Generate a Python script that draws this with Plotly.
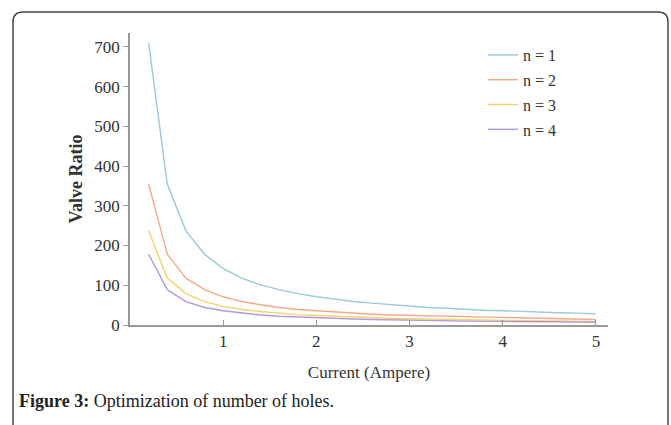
import plotly.graph_objects as go

current = [0.2, 0.4, 0.6, 0.8, 1.0, 1.2, 1.4, 1.6, 1.8, 2.0, 2.2, 2.4, 2.6,
           2.8, 3.0, 3.2, 3.4, 3.6, 3.8, 4.0, 4.2, 4.4, 4.6, 4.8, 5.0]
n1 = [710, 355, 237, 178, 142, 118, 101, 89, 79, 71, 65, 59, 55, 51, 47, 44, 42, 39, 37, 36, 34, 32, 31, 30, 28]
n2 = [355, 178, 118, 89, 71, 59, 51, 44, 39, 36, 32, 30, 27, 25, 24, 22, 21, 20, 19, 18, 17, 16, 15, 15, 14]
n3 = [237, 118, 79, 59, 47, 39, 34, 30, 26, 24, 22, 20, 18, 17, 16, 15, 14, 13, 12, 12, 11, 11, 10, 10, 9]
n4 = [178, 89, 59, 44, 36, 30, 25, 22, 20, 18, 16, 15, 14, 13, 12, 11, 10, 10, 9, 9, 8, 8, 8, 7, 7]
names = ["n = 1", "n = 2", "n = 3", "n = 4"]
colors = ["#9cc8d8", "#f4a98a", "#f5d56a", "#b39ae0"]
x_ticks = [1, 2, 3, 4, 5]
y_ticks = [0, 100, 200, 300, 400, 500, 600, 700]

W, H = 671, 425
L, R, T, B = 130, 608, 33, 325

fig = go.Figure()
for i, (name, ys, c) in enumerate(zip(names, [n1, n2, n3, n4], colors)):
    fig.add_trace(go.Scatter(x=current, y=ys, mode="lines", name=name,
                             legendgroup=f"g{i}",
                             line=dict(color=c, width=1.4)))

serif = "Liberation Serif"

def px(x):
    return (x - L) / (R - L)

def py(y):
    return (B - y) / (B - T)

# rounded card border
lx, rx, ty, by, r = 13, 668, 12, 440, 10
path = (f"M {px(lx)},{py(by)} L {px(lx)},{py(ty + r)} "
        f"Q {px(lx)},{py(ty)} {px(lx + r)},{py(ty)} "
        f"L {px(rx - r)},{py(ty)} Q {px(rx)},{py(ty)} {px(rx)},{py(ty + r)} "
        f"L {px(rx)},{py(by)}")

fig.update_layout(
    width=W, height=H,
    margin=dict(l=L, r=W - R, t=T, b=H - B),
    paper_bgcolor="white", plot_bgcolor="white",
    font=dict(family=serif, color="#333"),
    showlegend=True,
    legend=dict(x=px(483), y=py(38), xanchor="left", yanchor="top",
                font=dict(family=serif, size=16, color="#333"),
                bgcolor="rgba(0,0,0,0)", itemwidth=30, tracegroupgap=1),
    xaxis=dict(range=[0, 5.13], tickvals=x_ticks, ticks="inside", ticklen=5,
               tickcolor="#999", showline=True, linecolor="#999", linewidth=1.5,
               showgrid=False, zeroline=False,
               tickfont=dict(family=serif, size=17, color="#333"),
               title=dict(text="Current (Ampere)", standoff=16,
                          font=dict(family=serif, size=17, color="#333"))),
    yaxis=dict(range=[0, 735], tickvals=y_ticks, ticks="outside", ticklen=5,
               tickcolor="#999", showline=True, linecolor="#999", linewidth=1.5,
               showgrid=False, zeroline=False,
               tickfont=dict(family=serif, size=17, color="#333"),
               title=dict(text="<b>Valve Ratio</b>", standoff=7,
                          font=dict(family=serif, size=18, color="#333"))),
    shapes=[dict(type="path", xref="paper", yref="paper", path=path,
                 line=dict(color="#444", width=1.5))],
    annotations=[dict(text="<b>Figure 3:</b> Optimization of number of holes.",
                      xref="paper", yref="paper", x=px(17), y=py(401),
                      xanchor="left", yanchor="middle", showarrow=False,
                      font=dict(family=serif, size=18, color="#222"))],
)

fig.write_html("out.html",
               config={"displayModeBar": False},
               post_script="document.body.style.margin='0px';")
